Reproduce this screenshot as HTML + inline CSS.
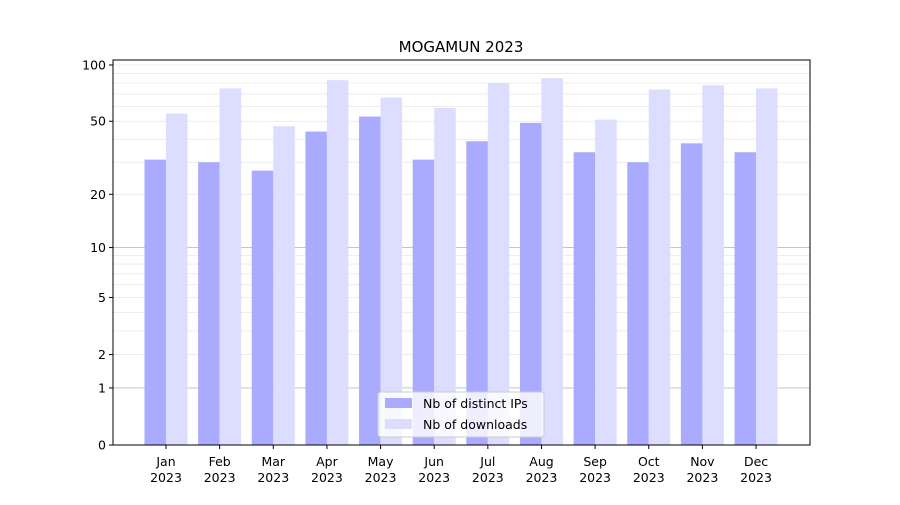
<!DOCTYPE html>
<html><head><meta charset="utf-8"><style>
body{margin:0;background:#fff}
svg text{font-family:"DejaVu Sans","Liberation Sans",sans-serif;font-size:12.5px;fill:#000}
</style></head><body>
<svg id="chart" width="900" height="500">
<rect width="900" height="500" fill="#fff"/>
<text x="461" y="52" text-anchor="middle" style="font-size:15px">MOGAMUN 2023</text>
<g id="grid"></g><g id="bars"></g><g id="axes"></g>
<g>
<rect x="378" y="392" width="166" height="45" rx="3" fill="#fff" fill-opacity="0.8" stroke="#ccc"/>
<rect x="385" y="398" width="27" height="10" fill="#aaaaff"/>
<text x="423" y="408">Nb of distinct IPs</text>
<rect x="385" y="419" width="27" height="10" fill="#ddddff"/>
<text x="423" y="429">Nb of downloads</text>
</g>
</svg>
<script>
const months=["Jan","Feb","Mar","Apr","May","Jun","Jul","Aug","Sep","Oct","Nov","Dec"];
const ips=[31,30,27,44,53,31,39,49,34,30,38,34];
const downloads=[55,75,47,83,67,59,80,85,51,74,78,75];
const yTicks=[0,1,2,5,10,20,50,100];
const NS="http://www.w3.org/2000/svg";
const L=113,R=810,T=60,B=445;
function y(v){return B-Math.log10(1+v)*189.6;}
function x(i){return 166+i*53.64;}
function mk(tag,attrs,parent){const e=document.createElementNS(NS,tag);for(const k in attrs)e.setAttribute(k,attrs[k]);document.getElementById(parent).appendChild(e);return e;}
const minor=[];for(let v=2;v<=9;v++)minor.push(v);for(let v=20;v<=100;v+=10)minor.push(v);
minor.forEach(v=>{const g=mk("line",{x1:L,x2:R,y1:y(v),y2:y(v),stroke:"#e8e8e8","stroke-width":0.8},"grid");

});
[1,10].forEach(v=>{const g=mk("line",{x1:L,x2:R,y1:y(v),y2:y(v),stroke:"#bbb","stroke-width":0.8},"grid");

});
const bw=21.5;
months.forEach((m,i)=>{
 const a=mk("rect",{x:x(i)-bw,y:y(ips[i]),width:bw,height:B-y(ips[i]),fill:"#aaaaff"},"bars");
 
 
 const b=mk("rect",{x:x(i),y:y(downloads[i]),width:bw,height:B-y(downloads[i]),fill:"#ddddff"},"bars");
 
 
 mk("line",{x1:x(i),x2:x(i),y1:B,y2:B+4,stroke:"#000"},"axes");
 const t=mk("text",{x:x(i),y:B+21,"text-anchor":"middle"},"axes");t.textContent=m;
 
 
 const t2=mk("text",{x:x(i),y:B+37,"text-anchor":"middle"},"axes");t2.textContent="2023";
 
 
});
yTicks.forEach(v=>{
 mk("line",{x1:L-4,x2:L,y1:y(v),y2:y(v),stroke:"#000"},"axes");
 const t=mk("text",{x:L-7,y:y(v)+4.5,"text-anchor":"end"},"axes");t.textContent=v;
 
 
});
const f=mk("rect",{x:L,y:T,width:R-L,height:B-T,fill:"none",stroke:"#000","stroke-width":1},"axes");


</script>
</body></html>
